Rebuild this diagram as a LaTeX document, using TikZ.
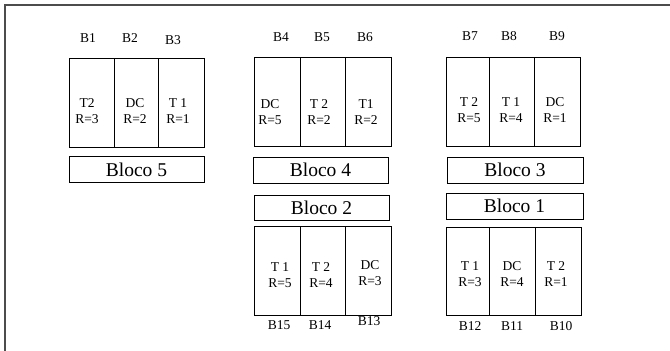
\documentclass[tikz,border=0pt]{standalone}
\usepackage{fontspec}
\setmainfont{Liberation Serif}
\begin{document}
\begin{tikzpicture}[x=1pt,y=-1pt,
  cell/.style={draw=black,line width=0.8pt,inner sep=0pt,minimum height=89pt},
  blocobox/.style={draw=black,line width=0.8pt,inner sep=0pt,minimum height=26pt,minimum width=135pt},
  lbl/.style={font=\fontsize{13.5}{16}\selectfont,inner sep=0pt},
  celltext/.style={font=\fontsize{13.5}{16}\selectfont,align=center,inner sep=0pt},
  blocotext/.style={font=\fontsize{19.5}{22}\selectfont,inner sep=0pt},
  frame/.style={line width=1.2pt,draw=black!70}]
\useasboundingbox (0,0) rectangle (670,351);
\draw[frame] (5,352) -- (5,5) -- (671,5);

% ---- Block 5 ----
\node[cell,minimum width=45pt] (c1) at (91.5,102.5) {};
\node[cell,minimum width=44pt] (c2) at (136,102.5) {};
\node[cell,minimum width=46pt] (c3) at (181,102.5) {};
\node[celltext] (t1) at (87,111.5) {T2\\R=3};
\node[celltext] (t2) at (135,111.5) {DC\\R=2};
\node[celltext] (t3) at (178,111.5) {T 1\\R=1};
\node[lbl] (b1) at (88,38) {B1};
\node[lbl] (b2) at (130,38) {B2};
\node[lbl] (b3) at (173,40) {B3};
\node[blocobox] (k5) at (136.5,169.5) {};
\node[blocotext] at (k5) {Bloco 5};

% ---- Block 4 ----
\node[cell,minimum width=46pt] (c4) at (277,101.5) {};
\node[cell,minimum width=45pt] (c5) at (322.5,101.5) {};
\node[cell,minimum width=46pt] (c6) at (368,101.5) {};
\node[celltext] (t4) at (270,112.5) {DC\\R=5};
\node[celltext] (t5) at (319,112.5) {T 2\\R=2};
\node[celltext] (t6) at (366,112.5) {T1\\R=2};
\node[lbl] (b4) at (281,37) {B4};
\node[lbl] (b5) at (322,37) {B5};
\node[lbl] (b6) at (365,37) {B6};
\node[blocobox] (k4) at (320.5,170) {};
\node[blocotext] at (k4) {Bloco 4};

% ---- Block 3 ----
\node[cell,minimum width=43pt] (c7) at (467.5,101.5) {};
\node[cell,minimum width=45pt] (c8) at (511.5,101.5) {};
\node[cell,minimum width=46pt] (c9) at (557,101.5) {};
\node[celltext] (t7) at (469,110.5) {T 2\\R=5};
\node[celltext] (t8) at (511,110.5) {T 1\\R=4};
\node[celltext] (t9) at (555,110.5) {DC\\R=1};
\node[lbl] (b7) at (470,36) {B7};
\node[lbl] (b8) at (509,36) {B8};
\node[lbl] (b9) at (557,36) {B9};
\node[blocobox,minimum width=136pt] (k3) at (515,170) {};
\node[blocotext] at (k3) {Bloco 3};

% ---- Block 2 ----
\node[blocobox,minimum height=25pt] (k2) at (321.5,207.5) {};
\node[blocotext] at (k2) {Bloco 2};
\node[cell,minimum width=46pt] (c15) at (277,270.5) {};
\node[cell,minimum width=45pt] (c14) at (322.5,270.5) {};
\node[cell,minimum width=46pt] (c13) at (368,270.5) {};
\node[celltext] (t15) at (280,275.5) {T 1\\R=5};
\node[celltext] (t14) at (321,275.5) {T 2\\R=4};
\node[celltext] (t13) at (370,273.5) {DC\\R=3};
\node[lbl] (b15) at (279,325) {B15};
\node[lbl] (b14) at (320,325) {B14};
\node[lbl] (b13) at (369,321) {B13};

% ---- Block 1 ----
\node[blocobox,minimum width=137pt] (k1) at (514.5,206) {};
\node[blocotext] at (k1) {Bloco 1};
\node[cell,minimum width=43pt,minimum height=88pt] (c12) at (467.5,271) {};
\node[cell,minimum width=46pt,minimum height=88pt] (c11) at (512,271) {};
\node[cell,minimum width=46pt,minimum height=88pt] (c10) at (558,271) {};
\node[celltext] (t12) at (470,274.5) {T 1\\R=3};
\node[celltext] (t11) at (512,274.5) {DC\\R=4};
\node[celltext] (t10) at (556,274.5) {T 2\\R=1};
\node[lbl] (b12) at (470,326) {B12};
\node[lbl] (b11) at (512,326) {B11};
\node[lbl] (b10) at (561,326) {B10};
\end{tikzpicture}
\end{document}
